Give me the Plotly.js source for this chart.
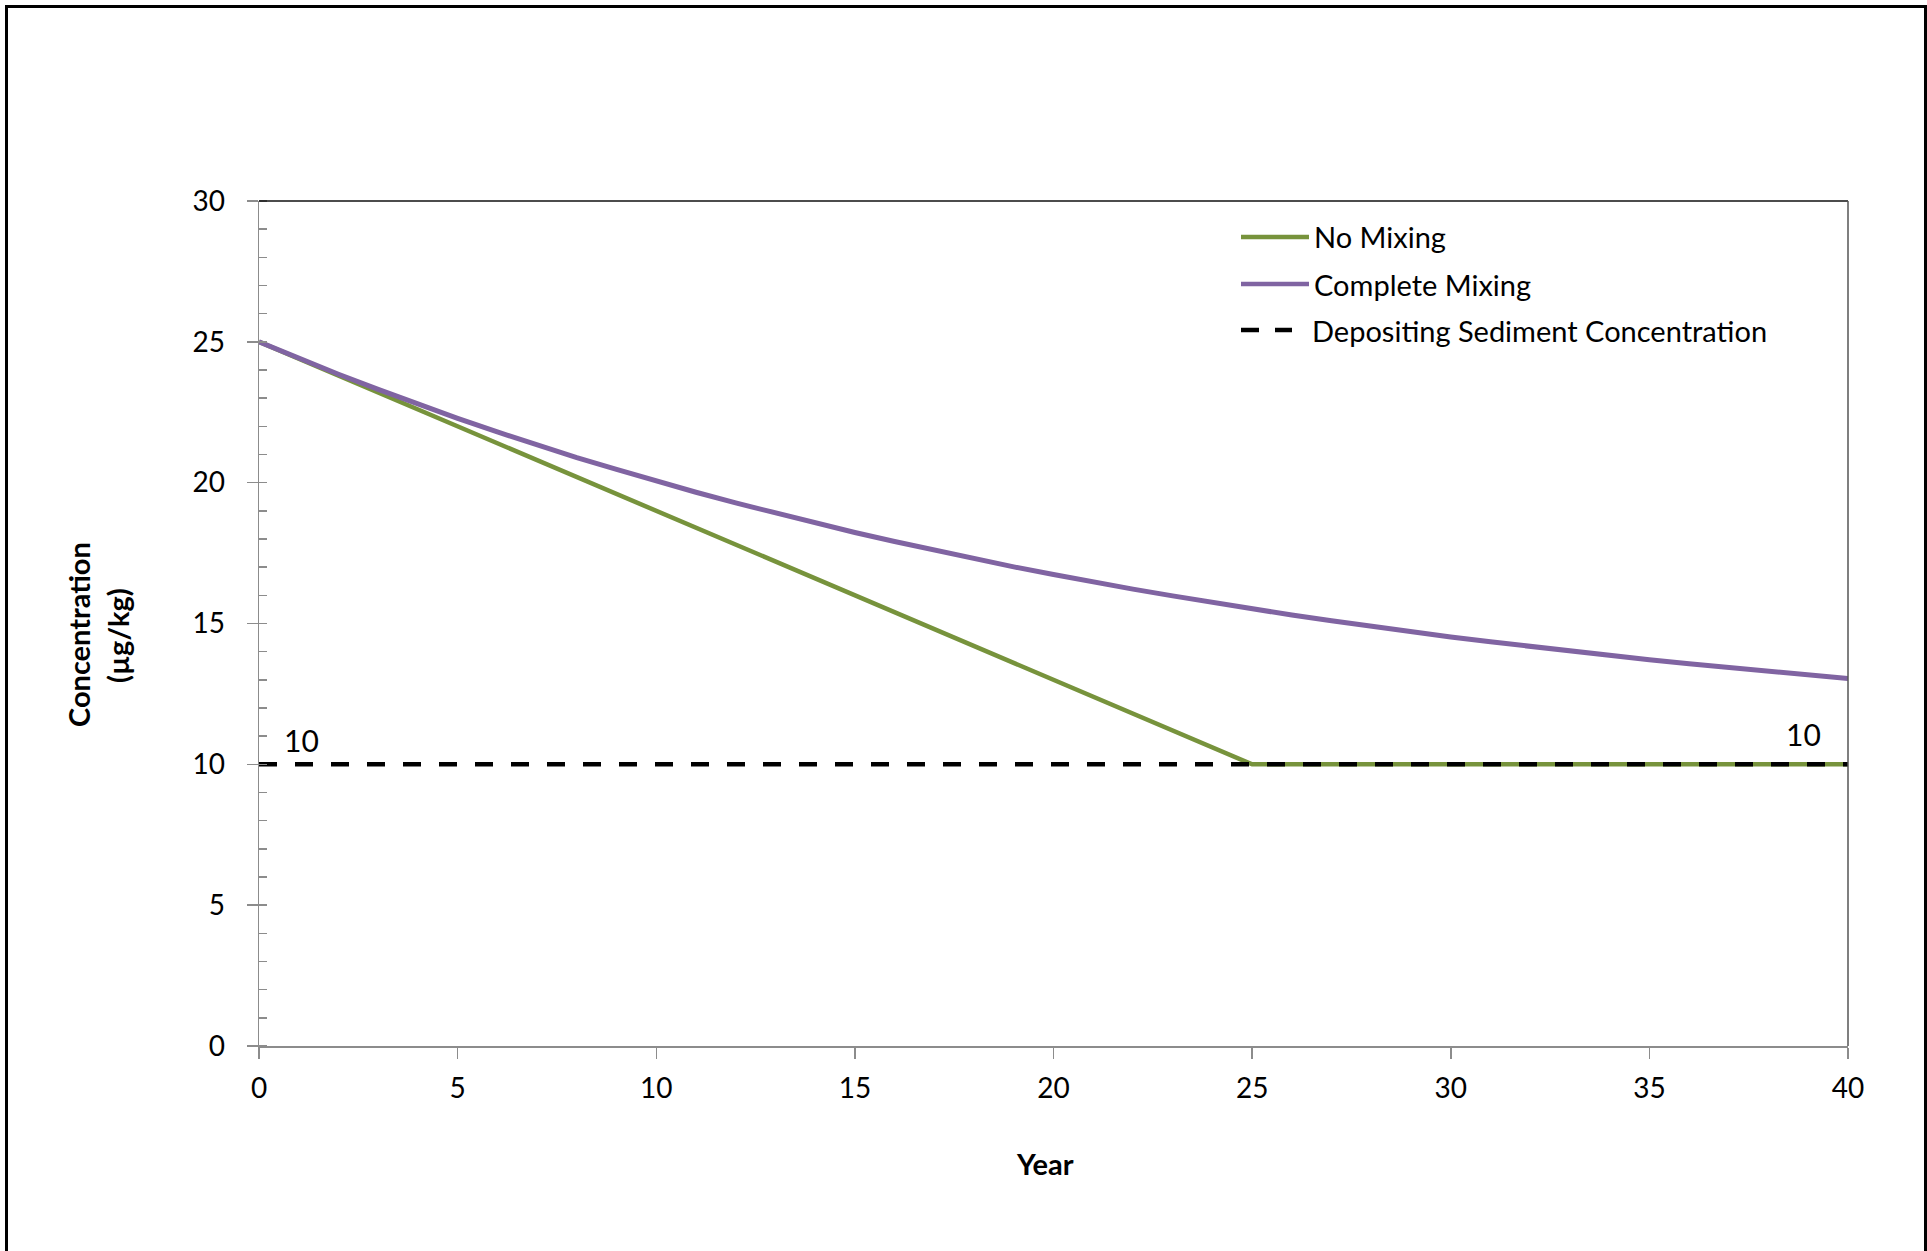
<!DOCTYPE html>
<html>
<head>
<meta charset="utf-8">
<script src="https://cdn.plot.ly/plotly-3.0.1.min.js"></script>
<style>
  html, body { margin: 0; padding: 0; background: #fff; }
  #chart { position: absolute; left: 0; top: 0; width: 1927px; height: 1251px; }
  #frame { position: absolute; left: 5px; top: 5px; width: 1916px; height: 1260px;
           border-left: 3px solid #000; border-top: 3px solid #000; border-right: 3px solid #000;
           pointer-events: none; }
</style>
</head>
<body>
<div id="chart"></div>
<div id="frame"></div>
<script>
// ---------------- data ----------------
const years = [0,1,2,3,4,5,6,7,8,9,10,11,12,13,14,15,16,17,18,19,20,
               21,22,23,24,25,26,27,28,29,30,31,32,33,34,35,36,37,38,39,40];
const noMixing = [25.0,24.4,23.8,23.2,22.6,22.0,21.4,20.8,20.2,19.6,19.0,
                  18.4,17.8,17.2,16.6,16.0,15.4,14.8,14.2,13.6,13.0,
                  12.4,11.8,11.2,10.6,10.0,10.0,10.0,10.0,10.0,10.0,
                  10.0,10.0,10.0,10.0,10.0,10.0,10.0,10.0,10.0,10.0];
const completeMixing = [25.00,24.41,23.85,23.31,22.78,22.28,21.80,21.34,20.89,20.47,20.05,
                        19.66,19.28,18.92,18.57,18.23,17.91,17.60,17.30,17.01,16.74,
                        16.47,16.22,15.98,15.74,15.52,15.30,15.10,14.90,14.71,14.52,
                        14.35,14.18,14.02,13.86,13.71,13.57,13.43,13.30,13.17,13.05];
const depositYears = [0, 40];
const depositValues = [10, 10];
const seriesNames = ["No Mixing", "Complete Mixing", "Depositing Sediment Concentration"];
const xTitle = "Year";
const yTitleLines = ["Concentration", "(µg/kg)"];

// ---------------- layout helpers ----------------
const W = 1927, H = 1251;
const M = {l: 259, r: 79, t: 201, b: 205};
const PW = W - M.l - M.r, PH = H - M.t - M.b;
const px = x => (x - M.l) / PW;          // pixel -> paper x
const py = y => (H - M.b - y) / PH;      // pixel -> paper y

const GREEN = "#77933C", PURPLE = "#8064A2", BLACK = "#000000";
const FONT = "Lato, 'Open Sans', sans-serif";
const colors = [GREEN, PURPLE, BLACK];

const traces = [
  {x: years, y: noMixing, name: seriesNames[0], type: "scatter", mode: "lines",
   line: {color: GREEN, width: 4.5}},
  {x: years, y: completeMixing, name: seriesNames[1], type: "scatter", mode: "lines",
   line: {color: PURPLE, width: 5}},
  {x: depositYears, y: depositValues, name: seriesNames[2], type: "scatter", mode: "lines",
   line: {color: BLACK, width: 4.5, dash: "18px,18px"}}
];

// manual legend
const legRows = [237, 284, 330];
const shapes = [
  // top and right plot border
  {type: "line", xref: "paper", yref: "paper", x0: 0, x1: 1, y0: 1, y1: 1,
   line: {color: "#111", width: 1.5}},
  {type: "line", xref: "paper", yref: "paper", x0: 1, x1: 1, y0: 0, y1: 1,
   line: {color: "#555", width: 1.5}}
];
const annotations = [];
seriesNames.forEach((nm, i) => {
  if (i < 2) {
    shapes.push({type: "line", xref: "paper", yref: "paper",
      x0: px(1241), x1: px(1309), y0: py(legRows[i]), y1: py(legRows[i]),
      line: {color: colors[i], width: 4.5}});
  } else {
    shapes.push({type: "line", xref: "paper", yref: "paper",
      x0: px(1241), x1: px(1259), y0: py(legRows[i]), y1: py(legRows[i]),
      line: {color: colors[i], width: 4.5}});
    shapes.push({type: "line", xref: "paper", yref: "paper",
      x0: px(1275), x1: px(1292), y0: py(legRows[i]), y1: py(legRows[i]),
      line: {color: colors[i], width: 4.5}});
  }
  annotations.push({xref: "paper", yref: "paper", x: px(i < 2 ? 1312 : 1310), y: py(legRows[i]),
    xanchor: "left", yanchor: "middle", showarrow: false, text: nm,
    font: {family: FONT, size: 29, color: "#000"}});
});

// data labels of the depositing line
annotations.push({x: depositYears[0], y: depositValues[0], xref: "x", yref: "y",
  text: String(depositValues[0]), showarrow: false, xshift: 42, yshift: 24,
  font: {family: FONT, size: 30, color: "#000"}});
annotations.push({x: depositYears[1], y: depositValues[1], xref: "x", yref: "y",
  text: String(depositValues[1]), showarrow: false, xshift: -45, yshift: 30,
  font: {family: FONT, size: 30, color: "#000"}});

// axis titles
annotations.push({xref: "paper", yref: "paper", x: px(1045), y: py(1163),
  text: "<b>" + xTitle + "</b>", showarrow: false, xanchor: "center", yanchor: "middle",
  font: {family: FONT, size: 29, color: "#000"}});
annotations.push({xref: "paper", yref: "paper", x: px(78), y: py(635),
  text: "<b>" + yTitleLines[0] + "</b>", showarrow: false, textangle: -90,
  xanchor: "center", yanchor: "middle", font: {family: FONT, size: 29, color: "#000"}});
annotations.push({xref: "paper", yref: "paper", x: px(117), y: py(636),
  text: "<b>" + yTitleLines[1] + "</b>", showarrow: false, textangle: -90,
  xanchor: "center", yanchor: "middle", font: {family: FONT, size: 29, color: "#000"}});

const layout = {
  width: W, height: H,
  margin: M,
  paper_bgcolor: "#fff", plot_bgcolor: "#fff",
  showlegend: false,
  font: {family: FONT, size: 28, color: "#000"},
  xaxis: {
    range: [0, 40], tickmode: "linear", tick0: 0, dtick: 5,
    showgrid: false, zeroline: false,
    showline: true, linecolor: "#8c8c8c", linewidth: 1.5,
    ticks: "outside", ticklen: 11, tickwidth: 1.5, tickcolor: "#8c8c8c",
    ticklabelstandoff: 6,
    tickfont: {family: FONT, size: 28, color: "#000"}
  },
  yaxis: {
    range: [0, 30], tickmode: "linear", tick0: 0, dtick: 5,
    showgrid: false, zeroline: false,
    showline: true, linecolor: "#8c8c8c", linewidth: 1.5,
    ticks: "outside", ticklen: 11, tickwidth: 1.5, tickcolor: "#8c8c8c",
    ticklabelstandoff: 16,
    tickfont: {family: FONT, size: 28, color: "#000"},
    minor: {dtick: 1, tick0: 0, ticks: "inside", ticklen: 8, tickwidth: 1.5,
            tickcolor: "#8c8c8c", showgrid: false}
  },
  shapes: shapes,
  annotations: annotations
};

Plotly.newPlot("chart", traces, layout, {displayModeBar: false, staticPlot: true});
</script>
</body>
</html>
